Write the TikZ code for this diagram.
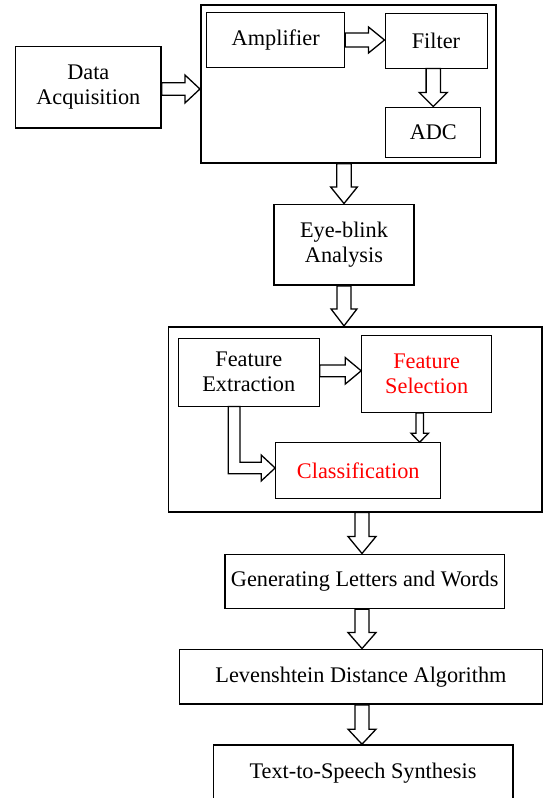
\documentclass[tikz,border=0pt]{standalone}
\usepackage{fontspec}
\setmainfont{Liberation Serif}
\usetikzlibrary{calc,positioning}

% hollow block arrow: start, tip, half shaft, half head, head length
\newcommand{\blockarrow}[5]{%
  \draw[blockarr] let \p1=#1, \p2=#2,
    \n1={atan2(\y2-\y1,\x2-\x1)}, \n2={veclen(\x2-\x1,\y2-\y1)} in
    [shift={(\p1)}, rotate=\n1]
    (0pt,#3pt) -- ({\n2-#5pt},#3pt) -- ({\n2-#5pt},#4pt) -- (\n2,0pt)
    -- ({\n2-#5pt},-#4pt) -- ({\n2-#5pt},-#3pt) -- (0pt,-#3pt) -- cycle;}

\begin{document}
\begin{tikzpicture}
[x=1pt, y=-1pt, font=\fontsize{22.3}{25}\selectfont,
block/.style={rectangle, draw, line width=1.6pt, inner sep=0pt, align=center},
inblock/.style={rectangle, draw, line width=1pt, inner sep=0pt, align=center},
blockarr/.style={draw, line width=1.3pt, line join=miter}]

\useasboundingbox (0,0) rectangle (543,798);

% signal conditioning
\node[block, minimum width=295.3, minimum height=158] (sigbox) at (348.4,84) {};
\node[block, minimum width=145.3, minimum height=81.3] (dataacq) at (88.3,87.3) {Data\\Acquisition};
\node[inblock, minimum width=138, minimum height=54.6] (amp) at (275.7,40) {Amplifier};
\node[inblock, minimum width=102, minimum height=55] (filter) at (436,40.5) {Filter};
\node[inblock, minimum width=94.7, minimum height=50] (adc) at (433.3,132) {ADC};

\node[block, minimum width=140, minimum height=80.7] (eye) at (344,244.7) {Eye-blink\\Analysis};

% features
\node[block, minimum width=373.4, minimum height=185] (featbox) at (355,419.2) {};
\node[inblock, minimum width=141, minimum height=67.7] (fe) at (248.8,372.2) {Feature\\Extraction};
\node[inblock, text=red, minimum width=130, minimum height=77.3] (fs) at (426.7,373.7) {Feature\\Selection};
\node[inblock, text=red, minimum width=165.3, minimum height=55.6] (cls) at (358.3,470.5) {Classification};

\node[block, minimum width=279.3, minimum height=54] (gen) at (364.7,581.3) {Generating Letters and Words};
\node[block, minimum width=363.4, minimum height=54.7] (lev) at (361,676.7) {Levenshtein Distance Algorithm};
\node[block, minimum width=299.4, minimum height=56] (tts) at (363,773) {Text-to-Speech Synthesis};

\blockarrow{($(dataacq.east)+(0,1.7)$)}{($(sigbox.west)+(0,5)$)}{6.2}{14}{15}
\blockarrow{(amp.east)}{(amp.east -| filter.west)}{7}{13}{16}
\blockarrow{(filter.south -| adc.north)}{(adc.north)}{7.2}{14}{14}
\blockarrow{(eye.north |- sigbox.south)}{(eye.north)}{7.3}{13.3}{16.5}
\blockarrow{(eye.south)}{(eye.south |- featbox.north)}{7}{13}{17}
\blockarrow{($(fe.east)+(0,-1.4)$)}{($(fe.east -| fs.west)+(0,-1.4)$)}{5.85}{13.3}{16}
\blockarrow{($(fs.south)+(-7,0)$)}{($(fs.south |- cls.north)+(-7,0)$)}{3.7}{8.8}{9}
\blockarrow{($(gen.north |- featbox.south)+(-2.7,0)$)}{($(gen.north)+(-2.7,0)$)}{7}{14}{17}
\blockarrow{($(gen.south)+(-2.7,0)$)}{($(gen.south |- lev.north)+(-2.7,0)$)}{7}{14}{16}
\blockarrow{($(lev.south)+(1,0)$)}{($(lev.south |- tts.north)+(1,0)$)}{7}{14}{15}

% elbow from extraction to classification
\coordinate (eltip) at ($(cls.west)+(0,-2.5)$);
\draw[blockarr] ($(fe.south)+(-20.5,0)$) |- ($(eltip)+(-14,5.7)$) -- ++(0,7.3) -- (eltip)
  -- ++(-14,-13) -- ++(0,7.3) -| ($(fe.south)+(-8.8,0)$) -- cycle;
\end{tikzpicture}
\end{document}
